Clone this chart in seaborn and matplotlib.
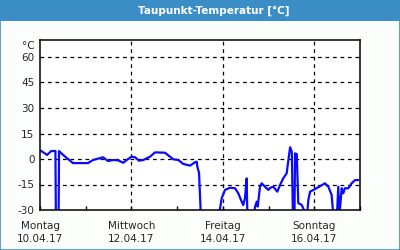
import matplotlib
matplotlib.use("Agg")
import matplotlib.pyplot as plt
import seaborn as sns
import pandas as pd
from matplotlib.patches import Rectangle

# Hours since Montag 10.04.17 00:00
hours = [0.4, 3.7, 5.9, 8.1, 8.4, 9.7, 10.0, 12.1, 17.3, 25.2, 27.8, 33.1, 35.7, 38.3,
         41.0, 43.7, 45.5, 48.1, 49.9, 52.0, 54.2, 57.8, 60.4, 65.6, 70.0, 72.6, 75.2,
         78.8, 81.4, 82.3, 82.6, 83.5, 84.4, 89.3, 94.1, 95.4, 97.1, 99.8, 102.4, 104.1,
         105.9, 106.7, 107.6, 108.5, 108.9, 111.3, 112.9, 113.8, 114.3, 115.5, 116.4,
         118.1, 119.9, 120.8, 122.5, 124.6, 126.0, 127.7, 129.5, 130.4, 131.3, 132.2,
         132.8, 133.6, 133.9, 134.8, 135.6, 137.4, 138.2, 139.1, 140.2, 140.9, 141.8,
         143.5, 146.1, 149.6, 151.4, 153.1, 154.0, 155.9, 156.6, 157.2, 158.4, 159.2,
         160.1, 161.9, 163.6, 165.4, 167.1]
dewpoint = [4.9, 2.4, 4.7, 4.7, -45, -45, 4.7, 2.4, -2.4, -2.4, -0.6, 1.0, -1.2, -0.6,
            -0.8, -2.2, -0.6, 1.4, 1.0, -1.0, -0.6, 1.4, 3.9, 3.7, -0.2, -0.6, -2.9,
            -3.9, -1.9, -1.6, -4.5, -8.2, -32, -40, -32, -23.1, -18.2, -16.9, -17.2, -20.2,
            -25.1, -27.1, -23.1, -11.4, -35, -40, -28, -25.1, -28, -16.3, -14.3,
            -16.3, -18.2, -17.0, -16.3, -19.2, -15.3, -11.4, -8.4, -0.6, 6.9, 4.3,
            -35, -35, 3.3, 2.9, -26, -27, -29, -33, -33, -24, -19.2,
            -18.2, -16.6, -14.3, -16.3, -21.2, -33, -33, -16.3, -33, -17.2, -20.2,
            -17.2, -17.2, -14.3, -12.4, -12.4]

title = "Taupunkt-Temperatur [°C]"
yticks = [-30, -15, 0, 15, 30, 45, 60]
day_ticks = [0, 24, 48, 72, 96, 120, 144, 168]
label_pos = [0, 48, 96, 144]
day_names = ["Montag", "Mittwoch", "Freitag", "Sonntag"]
day_dates = ["10.04.17", "12.04.17", "14.04.17", "16.04.17"]

sns.set_style("white")
plt.rcParams['font.family'] = ['DejaVu Sans']

bar = "#3b8ec5"
fig = plt.figure(figsize=(4, 2.5), dpi=100)
fig.patch.set_facecolor("#fcfefc")
fig.patches.append(Rectangle((0, 0.918), 1, 0.082, transform=fig.transFigure,
                             facecolor=bar, edgecolor="none", zorder=0))
fig.patches.append(Rectangle((0.0012, 0.002), 0.9976, 0.996, transform=fig.transFigure,
                             facecolor="none", edgecolor=bar, linewidth=1.2, zorder=1))
fig.text(0.535, 0.958, title, color="white", fontsize=7.5, fontweight="bold",
         ha="center", va="center")

ax = fig.add_axes([0.1, 0.16, 0.8, 0.68])
ax.set_facecolor("white")
df = pd.DataFrame({"h": hours, "v": dewpoint})
sns.lineplot(data=df, x="h", y="v", ax=ax, sort=False, color="#0a0aff", linewidth=1.6)

ax.set_xlim(0, 168)
ax.set_ylim(-30, 70)
ax.set_yticks(yticks)
ax.set_yticklabels([str(t) for t in yticks], fontsize=7.5)
ax.set_xticks(day_ticks)
ax.set_xticklabels([""] * len(day_ticks))
ax.tick_params(axis="x", direction="in", length=3, width=1, color="black", bottom=True)
ax.tick_params(axis="y", length=0, pad=4)
trans = ax.get_xaxis_transform()
for t, n, d in zip(label_pos, day_names, day_dates):
    ax.annotate(n, xy=(t, 0), xycoords=trans, xytext=(0, -11.5), textcoords="offset points",
                ha="center", va="center", fontsize=7.5, annotation_clip=False)
    ax.annotate(d, xy=(t, 0), xycoords=trans, xytext=(0, -21), textcoords="offset points",
                ha="center", va="center", fontsize=7.5, annotation_clip=False)
for y in yticks[1:]:
    ax.axhline(y, color="black", linestyle=(0, (3, 3)), linewidth=0.9, zorder=1)
for x in label_pos[1:]:
    ax.axvline(x, color="black", linestyle=(0, (3, 3)), linewidth=0.9, zorder=1)
ax.set_xlabel("")
ax.set_ylabel("")
for s in ax.spines.values():
    s.set_color("black")
    s.set_linewidth(1.1)
ax.annotate("°C", xy=(0, 1), xycoords="axes fraction", xytext=(-4, -4),
            textcoords="offset points", ha="right", va="center", fontsize=7.5)

fig.savefig("out.png", dpi=100, facecolor=fig.get_facecolor())
